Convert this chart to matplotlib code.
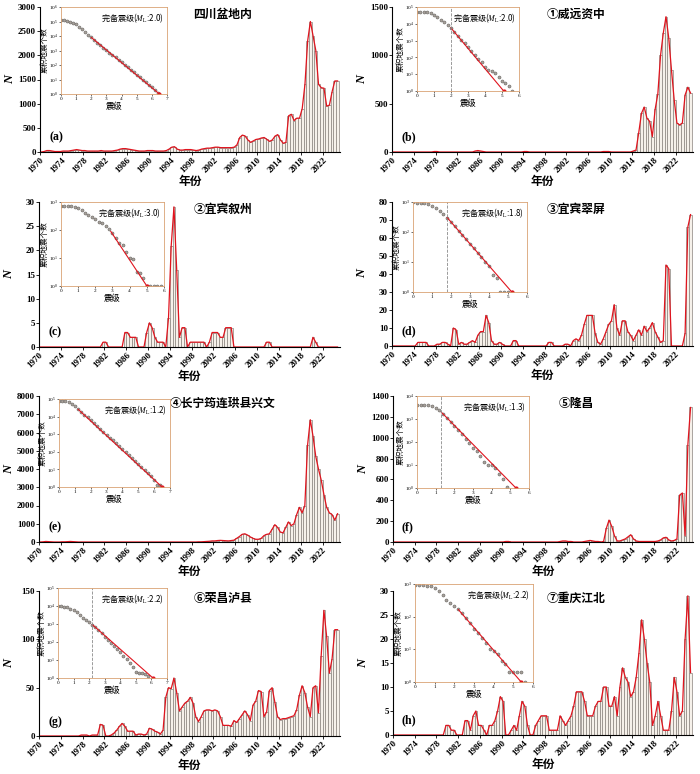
import matplotlib.pyplot as plt
import numpy as np
from matplotlib.ticker import LogLocator, NullLocator

plt.rcParams['font.family'] = ['Liberation Serif', 'Noto Sans CJK SC']
plt.rcParams['mathtext.fontset'] = 'stix'
CJK = ['Noto Sans CJK SC', 'DejaVu Sans']

# half-year bins 1970-2024
years = 1970.25 + 0.5 * np.arange(110)

counts_a = [0, 10, 30, 30, 20, 10, 10, 10, 20, 20,
            20, 30, 40, 50, 40, 30, 30, 20, 20, 20,
            20, 20, 30, 20, 20, 20, 20, 30, 40, 60,
            70, 70, 60, 50, 40, 30, 20, 20, 20, 30,
            30, 30, 20, 20, 20, 20, 30, 60, 100, 110,
            60, 40, 40, 50, 50, 50, 40, 30, 40, 60,
            70, 80, 80, 90, 100, 100, 90, 90, 90, 90,
            90, 100, 150, 300, 350, 330, 250, 200, 230, 260,
            270, 290, 300, 260, 220, 250, 330, 360, 250, 180,
            200, 750, 780, 650, 700, 700, 900, 1400, 2300, 2700,
            2400, 2100, 1400, 1330, 1320, 950, 970, 1250, 1470, 1470]
counts_b = [0, 0, 0, 0, 0, 0, 0, 0, 0, 0,
            0, 0, 0, 0, 0, 5, 5, 0, 0, 0,
            0, 0, 0, 0, 0, 0, 0, 0, 0, 0,
            10, 15, 10, 5, 0, 0, 0, 0, 0, 0,
            0, 0, 0, 0, 0, 0, 0, 0, 5, 5,
            0, 0, 0, 0, 0, 0, 0, 0, 0, 0,
            0, 0, 0, 0, 0, 0, 0, 0, 0, 0,
            0, 0, 0, 0, 0, 0, 0, 5, 5, 5,
            0, 0, 0, 0, 0, 0, 0, 0, 10, 20,
            200, 400, 465, 350, 317, 160, 440, 600, 1000, 1230,
            1400, 1180, 850, 540, 300, 280, 300, 590, 670, 610]
counts_c = [0, 0, 0, 0, 0, 0, 0, 0, 0, 0,
            0, 0, 0, 0, 0, 0, 0, 0, 0, 0,
            0, 0, 0, 1, 1, 0, 0, 0, 0, 0,
            0, 3, 3, 2, 2, 2, 0, 0, 0, 3,
            5, 4, 2, 1, 1, 1, 0, 6, 21, 29,
            16, 2, 4, 4, 0, 1, 1, 1, 1, 1,
            1, 0, 1, 3, 3, 3, 2, 2, 4, 4,
            4, 0, 0, 0, 0, 0, 0, 0, 0, 0,
            0, 0, 0, 1, 1, 0, 0, 0, 0, 0,
            0, 0, 0, 0, 0, 0, 0, 0, 0, 0,
            2, 1, 0, 0, 0, 0, 0, 0, 0, 0]
counts_d = [0, 0, 0, 0, 0, 0, 0, 0, 0, 2,
            2, 2, 2, 0, 0, 0, 1, 1, 2, 2,
            1, 0, 10, 9, 1, 2, 1, 1, 2, 3,
            2, 6, 8, 8, 17, 13, 3, 1, 1, 2,
            1, 0, 0, 0, 3, 3, 0, 0, 0, 0,
            0, 0, 0, 0, 0, 0, 0, 2, 2, 0,
            0, 0, 0, 1, 1, 0, 3, 4, 3, 6,
            12, 17, 17, 17, 7, 2, 1, 4, 8, 12,
            14, 23, 10, 6, 14, 14, 8, 6, 3, 6,
            9, 6, 11, 8, 10, 13, 8, 5, 2, 3,
            45, 43, 0, 0, 0, 0, 0, 7, 66, 73]
counts_e = [0, 10, 30, 20, 10, 0, 0, 0, 10, 10,
            20, 30, 20, 10, 0, 0, 0, 0, 0, 0,
            0, 0, 0, 0, 0, 0, 0, 0, 0, 0,
            0, 0, 0, 0, 0, 0, 0, 0, 0, 0,
            0, 0, 0, 0, 0, 0, 0, 0, 0, 0,
            0, 0, 0, 0, 0, 0, 0, 0, 10, 10,
            20, 30, 40, 60, 60, 80, 90, 80, 70, 60,
            80, 100, 200, 300, 420, 450, 380, 280, 200, 150,
            150, 200, 350, 420, 450, 700, 950, 800, 550, 500,
            800, 1100, 900, 1000, 1500, 1900, 1600, 2000, 5300, 6700,
            5800, 4700, 4000, 3400, 2600, 1900, 1600, 1500, 1200, 1550]
counts_f = [0, 0, 0, 0, 0, 0, 0, 0, 0, 0,
            0, 0, 0, 0, 0, 0, 0, 0, 0, 0,
            0, 0, 0, 0, 0, 0, 0, 0, 0, 0,
            0, 0, 0, 0, 0, 0, 0, 0, 0, 0,
            0, 5, 5, 0, 0, 0, 0, 0, 0, 0,
            0, 0, 0, 0, 0, 0, 0, 0, 0, 0,
            0, 5, 10, 10, 5, 5, 0, 0, 0, 0,
            5, 10, 15, 10, 5, 5, 0, 5, 130, 210,
            150, 60, 10, 10, 20, 30, 50, 70, 30, 10,
            5, 5, 5, 5, 5, 5, 5, 10, 20, 40,
            45, 20, 10, 15, 30, 450, 470, 60, 930, 1290]
counts_g = [0, 0, 0, 0, 0, 0, 0, 0, 0, 0,
            0, 0, 0, 0, 0, 1, 1, 1, 0, 1,
            1, 1, 12, 11, 0, 0, 1, 3, 6, 10,
            13, 10, 5, 5, 5, 1, 2, 2, 1, 2,
            8, 7, 5, 4, 2, 6, 40, 50, 49, 60,
            45, 26, 30, 34, 36, 40, 34, 20, 15, 20,
            26, 27, 27, 26, 27, 26, 20, 11, 11, 11,
            10, 16, 14, 18, 22, 26, 22, 16, 32, 36,
            47, 46, 20, 25, 47, 50, 35, 20, 17, 18,
            18, 19, 20, 21, 27, 42, 52, 45, 30, 20,
            50, 52, 24, 83, 130, 103, 65, 80, 110, 110]
counts_h = [0, 0, 0, 0, 0, 0, 0, 0, 0, 0,
            0, 0, 0, 0, 0, 0, 0, 0, 0, 2,
            2, 1, 1, 0, 0, 0, 3, 3, 1, 4,
            5, 2, 2, 1, 0, 2, 2, 3, 5, 8,
            7, 0, 0, 1, 2, 1, 4, 7, 6, 2,
            0, 0, 2, 3, 4, 4, 4, 1, 1, 1,
            1, 4, 3, 2, 3, 4, 6, 9, 9, 9,
            7, 4, 4, 4, 6, 7, 7, 10, 10, 6,
            6, 8, 4, 10, 14, 12, 11, 8, 9, 12,
            17, 24, 20, 15, 11, 2, 4, 7, 4, 1,
            1, 1, 5, 12, 9, 4, 5, 20, 29, 13]

titles = ['四川盆地内', '①威远资中', '②宜宾叙州', '③宜宾翠屏',
          '④长宁筠连珙县兴文', '⑤隆昌', '⑥荣昌泸县', '⑦重庆江北']
tags = ['(a)', '(b)', '(c)', '(d)', '(e)', '(f)', '(g)', '(h)']
ymax = [3000, 1500, 30, 80, 8000, 1400, 150, 30]
ystep = [500, 500, 5, 10, 1000, 200, 50, 5]

# insets: log10 cumulative number every 0.2 magnitude from M0
logn_a = [5.07, 5.07, 5.05, 5.0, 4.92, 4.8, 4.65, 4.48, 4.3, 4.1, 3.9, 3.72, 3.55,
          3.38, 3.2, 3.03, 2.86, 2.69, 2.52, 2.35, 2.18, 2.0, 1.84, 1.68, 1.5,
          1.34, 1.16, 1.0, 0.83, 0.6, 0.45, 0.3, 0.1]
logn_b = [4.7, 4.7, 4.7, 4.69, 4.65, 4.55, 4.4, 4.25, 4.1, 3.92, 3.75, 3.5, 3.28,
          3.05, 2.83, 2.6, 2.38, 2.15, 1.92, 1.7, 1.45, 1.25, 1.2, 1.1, 0.85,
          0.6, 0.45, 0.3, 0.0]
logn_c = [2.85, 2.85, 2.85, 2.85, 2.83, 2.78, 2.7, 2.62, 2.55, 2.47, 2.38, 2.3,
          2.24, 2.15, 2.02, 1.9, 1.72, 1.55, 1.45, 1.2, 1.0, 0.95, 0.5, 0.48,
          0.3, 0.0, 0.0, 0.0, 0.0, 0.0]
logn_d = [3.0, 2.98, 2.97, 2.96, 2.93, 2.88, 2.8, 2.7, 2.6, 2.48, 2.35, 2.2, 2.05,
          1.9, 1.75, 1.6, 1.48, 1.3, 1.17, 1.0, 0.85, 0.55, 0.45, 0.0, 0.0,
          0.0, 0.0]
logn_e = [4.9, 4.9, 4.88, 4.82, 4.72, 4.58, 4.42, 4.27, 4.1, 3.95, 3.78, 3.62,
          3.45, 3.3, 3.13, 2.97, 2.8, 2.65, 2.48, 2.32, 2.15, 1.98, 1.82, 1.65,
          1.48, 1.3, 1.15, 0.98, 0.8, 0.6, 0.4, 0.1, 0.1]
logn_f = [3.6, 3.6, 3.6, 3.6, 3.57, 3.5, 3.38, 3.22, 3.05, 2.88, 2.7, 2.52, 2.33,
          2.15, 1.95, 1.75, 1.6, 1.4, 1.15, 1.0, 1.0, 0.85, 0.6, 0.4, 0.05]
logn_g = [4.0, 3.98, 3.96, 3.92, 3.86, 3.76, 3.64, 3.5, 3.36, 3.22, 3.1, 2.97,
          2.82, 2.65, 2.48, 2.3, 2.12, 1.95, 1.78, 1.6, 1.42, 1.25, 1.05, 0.85,
          0.6, 0.35, 0.3, 0.3, 0.2, 0.1]
logn_h = [2.97, 2.97, 2.96, 2.95, 2.93, 2.88, 2.78, 2.65, 2.52, 2.42, 2.33, 2.22,
          2.1, 1.95, 1.8, 1.62, 1.5, 1.35, 1.2, 1.0, 0.95, 0.85, 0.65, 0.55,
          0.3, 0.3, 0.3, 0.3, 0.0]

mc = [2.0, 2.0, 3.0, 1.8, 1.2, 1.3, 2.2, 2.2]
fit_start = [3.9, 3.75, 1.95, 2.48, 4.42, 3.3, 2.97, 2.22]
fit_mstart = [2.0, 2.0, 2.9, 1.8, 1.2, 1.3, 2.2, 2.2]
fit_mend = [6.5, 5.1, 5.0, 5.2, 6.5, 5.3, 6.1, 5.4]
ins_xmax = [7, 6, 6, 6, 7, 6, 7, 6]
ins_ytop = [6, 5, 3, 3, 5, 4, 5, 3]
show_mc = [False, True, False, True, False, True, True, False]

counts = [counts_a, counts_b, counts_c, counts_d, counts_e, counts_f, counts_g, counts_h]
logns = [logn_a, logn_b, logn_c, logn_d, logn_e, logn_f, logn_g, logn_h]

# pixel boxes (left, top, right, bottom)
main_box = [(40, 7, 340, 152), (392, 7, 693, 152),
            (39, 202, 340, 347), (392, 202, 693, 346),
            (39, 396, 340, 542), (393, 396, 693, 542),
            (39, 591, 340, 736), (393, 591, 693, 735)]
ins_box = [(61, 7, 167, 94), (417, 7, 519, 91),
           (61, 202, 164, 286), (413, 202, 527, 292),
           (59, 399, 170, 487), (417, 396, 529, 488),
           (58, 588, 167, 678), (415, 584, 533, 682)]

W, H = 700, 774
fig = plt.figure(figsize=(W / 100, H / 100), dpi=100)
red = '#e0141e'

def box(b):
    l, t, r, bt = b
    return [l / W, 1 - bt / H, (r - l) / W, (bt - t) / H]

for i in range(8):
    ax = fig.add_axes(box(main_box[i]))
    ax.bar(years, counts[i], width=0.5, color='#f6f1ea', edgecolor='#8a847e', linewidth=0.5)
    ax.plot(years, counts[i], color=red, lw=0.9)
    ax.set_xlim(1970, 2025.2)
    ax.set_ylim(0, ymax[i])
    ax.set_yticks(np.arange(0, ymax[i] + 1, ystep[i]))
    ax.set_xticks(range(1970, 2023, 4))
    ax.spines['top'].set_visible(False)
    ax.spines['right'].set_visible(False)
    ax.tick_params(labelsize=6.5, length=2, width=0.6, pad=1)
    for lab in ax.get_xticklabels() + ax.get_yticklabels():
        lab.set_fontweight('bold')
    plt.setp(ax.get_xticklabels(), rotation=45, ha='right', rotation_mode='anchor')
    ax.set_xlabel('年份', family=CJK, fontsize=8.5, fontweight='bold', labelpad=0)
    ax.set_ylabel('N', fontsize=9, style='italic', fontweight='bold')
    ax.yaxis.set_label_coords(-0.08, 0.5)
    ax.text(0.61, 0.95, titles[i], transform=ax.transAxes, ha='center', va='center',
            family=CJK, fontsize=8.5, fontweight='bold')
    ax.text(0.03, 0.1, tags[i], transform=ax.transAxes, ha='left', va='center',
            fontsize=8.5, fontweight='bold')

    ins = fig.add_axes(box(ins_box[i]))
    m = 0.2 * np.arange(len(logns[i]))
    ins.semilogy(m, 10 ** np.array(logns[i]), 'o', ms=2.2, mfc='#a8a29c',
                 mec='#5e5a56', mew=0.35)
    ins.plot([fit_mstart[i], fit_mend[i]], [10 ** fit_start[i], 1], color=red, lw=0.8)
    ins.plot([fit_mend[i]], [1], 'o', color=red, ms=2)
    if show_mc[i]:
        ins.axvline(mc[i], color='#8a8a8a', lw=0.6, ls='--')
    ins.set_xlim(0, ins_xmax[i])
    ins.set_ylim(1, 10 ** ins_ytop[i])
    ins.set_xticks(range(0, ins_xmax[i] + 1))
    ins.yaxis.set_major_locator(LogLocator(base=10, numticks=10))
    ins.yaxis.set_minor_locator(NullLocator())
    for s in ins.spines.values():
        s.set_color('#d9a274')
        s.set_linewidth(0.6)
    ins.tick_params(labelsize=3.8, length=1.5, width=0.4, pad=0.5)
    ins.set_xlabel('震级', family=CJK, fontsize=6, labelpad=1)
    ins.set_ylabel('累积地震个数', family=CJK, fontsize=5.5, labelpad=0.5)
    ins.text(0.97, 0.95, '完备震级($M_{\\rm L}$:%.1f)' % mc[i], transform=ins.transAxes,
             ha='right', va='top', fontsize=5.8, family=CJK)

fig.savefig('out.png', dpi=100)
